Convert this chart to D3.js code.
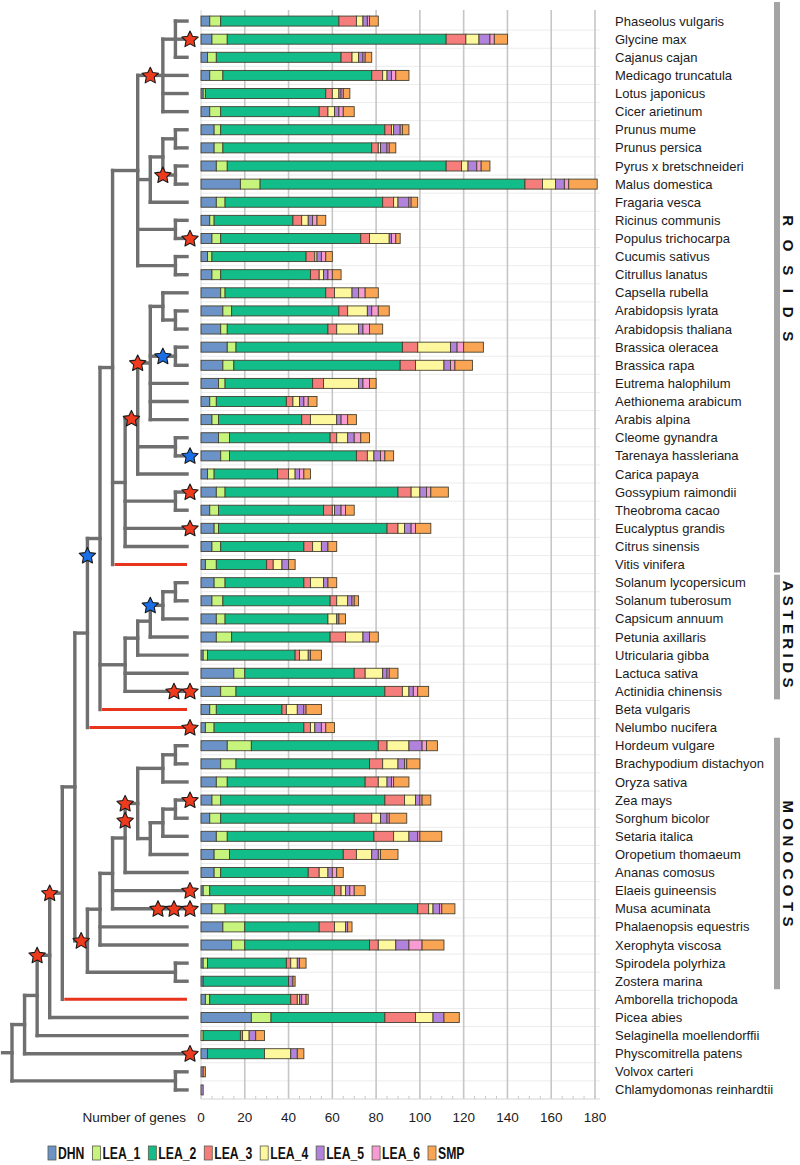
<!DOCTYPE html>
<html><head><meta charset="utf-8">
<script src="https://cdn.jsdelivr.net/npm/d3@7"></script>
<style>body{margin:0;background:#fff}</style>
</head><body>
<svg id="chart" width="800" height="1165"></svg>
<script>
// ---------------- DATA ----------------
const species = ["Phaseolus vulgaris","Glycine max","Cajanus cajan","Medicago truncatula","Lotus japonicus","Cicer arietinum","Prunus mume","Prunus persica","Pyrus x bretschneideri","Malus domestica","Fragaria vesca","Ricinus communis","Populus trichocarpa","Cucumis sativus","Citrullus lanatus","Capsella rubella","Arabidopsis lyrata","Arabidopsis thaliana","Brassica oleracea","Brassica rapa","Eutrema halophilum","Aethionema arabicum","Arabis alpina","Cleome gynandra","Tarenaya hassleriana","Carica papaya","Gossypium raimondii","Theobroma cacao","Eucalyptus grandis","Citrus sinensis","Vitis vinifera","Solanum lycopersicum","Solanum tuberosum","Capsicum annuum","Petunia axillaris","Utricularia gibba","Lactuca sativa","Actinidia chinensis","Beta vulgaris","Nelumbo nucifera","Hordeum vulgare","Brachypodium distachyon","Oryza sativa","Zea mays","Sorghum bicolor","Setaria italica","Oropetium thomaeum","Ananas comosus","Elaeis guineensis","Musa acuminata","Phalaenopsis equestris","Xerophyta viscosa","Spirodela polyrhiza","Zostera marina","Amborella trichopoda","Picea abies","Selaginella moellendorffii","Physcomitrella patens","Volvox carteri","Chlamydomonas reinhardtii"];

const seriesNames = ["DHN","LEA_1","LEA_2","LEA_3","LEA_4","LEA_5","LEA_6","SMP"];

const DHN   = [4,5,3,4,1,4,6,6,7,18, 7,4,5,3,5,9,10,9,12,10, 8,4,5,8,9,3,7,4,6,5, 2,6,5,7,7,1,15,9,4,2, 12,9,7,5,4,7,6,6,1,5, 10,14,1,1,2,23,0,3,0,0];
const LEA_1 = [5,7,4,6,1,5,3,4,5,9, 4,2,4,2,4,2,4,3,4,5, 3,3,3,5,4,3,4,4,2,4, 5,5,5,4,7,2,5,7,3,4, 11,7,5,4,5,5,7,3,3,6, 10,6,2,0,2,9,1,0,0,0];
const LEA_2 = [54,100,57,68,55,45,75,68,100,121, 72,36,64,43,41,46,49,46,76,76, 40,32,38,46,58,29,79,48,77,38, 23,36,49,47,45,40,50,68,30,41, 58,61,63,75,61,67,52,40,57,88, 34,57,36,39,37,52,17,26,0,0];
const LEA_3 = [8,9,5,5,3,4,3,3,7,8, 5,4,4,4,4,4,4,4,7,7, 5,3,4,3,5,5,6,4,5,4, 3,3,3,0,7,2,5,8,2,3, 4,6,6,9,8,9,6,5,3,5, 7,4,2,0,3,14,1,0,0,0];
const LEA_4 = [3,6,3,2,3,3,1,1,3,6, 2,3,9,1,2,8,9,10,15,13, 16,3,12,5,3,3,4,1,3,4, 4,6,5,4,8,4,8,3,5,2, 10,7,4,5,4,7,7,4,2,2, 5,8,3,0,1,8,3,12,0,0];
const LEA_5 = [2,5,2,2,1,2,3,3,4,4, 5,2,1,2,2,3,2,2,3,3, 2,2,2,3,3,2,3,3,3,3, 3,2,2,1,3,1,2,2,3,3, 6,3,2,2,3,4,3,2,2,3, 1,6,1,2,1,5,3,3,1,1];
const LEA_6 = [1,2,1,2,1,2,1,1,2,2, 1,2,2,2,2,3,3,3,3,2, 3,2,3,3,2,2,2,2,2,0, 0,0,1,0,0,0,1,2,1,2, 2,1,1,1,1,1,1,2,2,1, 0,6,0,0,2,0,0,0,0,0];
const SMP   = [4,6,3,6,3,5,3,3,4,13, 3,4,2,3,4,6,5,6,9,8, 3,4,4,4,4,3,8,4,7,4, 3,4,2,3,4,5,4,5,7,4, 5,6,7,4,8,10,8,3,5,6, 2,10,3,1,1,7,4,3,1,0];

const xTicks = [0,20,40,60,80,100,120,140,160,180];
const xLabel = "Number of genes";

const groups = [
  {name:"ROSIDS",   first:"Phaseolus vulgaris",   last:"Vitis vinifera"},
  {name:"ASTERIDS", first:"Solanum lycopersicum", last:"Actinidia chinensis"},
  {name:"MONOCOTS", first:"Hordeum vulgare",      last:"Zostera marina"}
];

// Phylogeny: n(name, level, ...children); leaves are species names
function n(name, level, ...children){ return {name, level, children: children.map(c => typeof c === "string" ? {name:c} : c)}; }
const tree =
n("root",0,
 n("land",1,
  n("vas",2,
   n("spm",3,
    n("ang",4,
     n("mesa",5,
      n("eud",6,
       n("core",7,
        n("rosids",8,
         n("fabids",10,
          n("fab",12, n("gly",13,"Phaseolus vulgaris","Glycine max","Cajanus cajan"),"Medicago truncatula","Lotus japonicus","Cicer arietinum"),
          n("ros",11, n("ros2",12, n("pru",13,"Prunus mume","Prunus persica"), n("mal",13,"Pyrus x bretschneideri","Malus domestica")),"Fragaria vesca"),
          n("mlp",13,"Ricinus communis","Populus trichocarpa"),
          n("cuc",13,"Cucumis sativus","Citrullus lanatus")),
         n("malvids",9,
          n("br0",10,
           n("br1",11,
            n("br2",12,"Capsella rubella", n("ara",13,"Arabidopsis lyrata","Arabidopsis thaliana")),
            n("bra",13,"Brassica oleracea","Brassica rapa"),
            "Eutrema halophilum","Aethionema arabicum","Arabis alpina"),
           n("cle",13,"Cleome gynandra","Tarenaya hassleriana"),
           "Carica papaya"),
          n("mlv",13,"Gossypium raimondii","Theobroma cacao"),
          "Eucalyptus grandis","Citrus sinensis"),
         "Vitis vinifera"),
        n("ast",9,
         n("lam",10, n("sol3",11, n("sol2",12, n("sol",13,"Solanum lycopersicum","Solanum tuberosum"),"Capsicum annuum"),"Petunia axillaris"),"Utricularia gibba"),
         "Lactuca sativa","Actinidia chinensis"),
        "Beta vulgaris"),
       "Nelumbo nucifera"),
      n("mono",6,
       n("m7",7,
        n("m8",8,
         n("com",9,
          n("poa",10,
           n("bep",12, n("poo",13,"Hordeum vulgare","Brachypodium distachyon"),"Oryza sativa"),
           n("pac",11, n("pan",12, n("and",13,"Zea mays","Sorghum bicolor"),"Setaria italica"),"Oropetium thomaeum")),
          "Ananas comosus"),
         "Elaeis guineensis","Musa acuminata"),
        "Phalaenopsis equestris","Xerophyta viscosa"),
       n("ali",13,"Spirodela polyrhiza","Zostera marina"))),
     "Amborella trichopoda"),
    "Picea abies"),
   "Selaginella moellendorffii"),
  "Physcomitrella patens"),
 n("chl",13,"Volvox carteri","Chlamydomonas reinhardtii"));

const redBranches = ["Vitis vinifera","Beta vulgaris","Nelumbo nucifera","Amborella trichopoda"];

// duplication-event stars: on = node/leaf, at = tip | mid | start
const stars = [
 {on:"Glycine max", at:"tip", color:"red", count:1},
 {on:"fab", at:"mid", color:"red", count:1},
 {on:"mal", at:"start", color:"red", count:1},
 {on:"Populus trichocarpa", at:"tip", color:"red", count:1},
 {on:"bra", at:"mid", color:"blue", count:1},
 {on:"br1", at:"start", color:"red", count:1},
 {on:"br0", at:"mid", color:"red", count:1},
 {on:"Tarenaya hassleriana", at:"tip", color:"blue", count:1},
 {on:"Gossypium raimondii", at:"tip", color:"red", count:1},
 {on:"Eucalyptus grandis", at:"tip", color:"red", count:1},
 {on:"core", at:"start", color:"blue", count:1, skip:1},
 {on:"sol2", at:"start", color:"blue", count:1},
 {on:"Actinidia chinensis", at:"tip", color:"red", count:2},
 {on:"Nelumbo nucifera", at:"tip", color:"red", count:1},
 {on:"Zea mays", at:"tip", color:"red", count:1},
 {on:"poa", at:"start", color:"red", count:2},
 {on:"Elaeis guineensis", at:"tip", color:"red", count:1},
 {on:"Musa acuminata", at:"tip", color:"red", count:3},
 {on:"mono", at:"mid", color:"red", count:1},
 {on:"ang", at:"start", color:"red", count:1},
 {on:"spm", at:"start", color:"red", count:1},
 {on:"Physcomitrella patens", at:"tip", color:"red", count:1}
];

// ---------------- STYLE ----------------
const seriesColors = {DHN:"#6b93c8",LEA_1:"#c6f47c",LEA_2:"#12bd8a",LEA_3:"#f57e7c",LEA_4:"#fdf89d",LEA_5:"#b183dc",LEA_6:"#f89bd3",SMP:"#f9a554"};
const starColors = {red:"#ee3a1d", blue:"#1a6ee6"};
const groupStyle = {ROSIDS:{span:126, shift:-9}, ASTERIDS:{span:107, shift:-3}, MONOCOTS:{span:126, shift:0}};
const sans = "'Liberation Sans', Arial, sans-serif";

// ---------------- CHART ----------------
const svg = d3.select("#chart");
const x = d3.scaleLinear().domain([0,180]).range([201,595]);
const y = d3.scalePoint().domain(species).range([12,1099]).padding(0.5);
const step = y.step();
const barH = 10;
const plotTop = 10, plotBottom = 1099, plotRight = 600;

// horizontal row separators
svg.append("g").selectAll("line").data(species).join("line")
  .attr("x1", x(0)).attr("x2", plotRight)
  .attr("y1", d => y(d) + step/2).attr("y2", d => y(d) + step/2)
  .attr("stroke", "#ececec").attr("stroke-width", 1);

// vertical gridlines
svg.append("g").selectAll("line").data(xTicks).join("line")
  .attr("x1", d => x(d)).attr("x2", d => x(d))
  .attr("y1", plotTop).attr("y2", plotBottom)
  .attr("stroke", d => d === 0 ? "#d8d8d8" : "#c6c6c6").attr("stroke-width", d => d === 0 ? 1 : 1.6);

// minor ticks along the bottom
svg.append("g").selectAll("line").data(d3.range(0, 181, 5)).join("line")
  .attr("x1", d => x(d)).attr("x2", d => x(d))
  .attr("y1", plotBottom - 3).attr("y2", plotBottom)
  .attr("stroke", "#c6c6c6").attr("stroke-width", 1);
svg.append("line").attr("x1", x(0)).attr("x2", plotRight).attr("y1", plotBottom).attr("y2", plotBottom)
  .attr("stroke", "#dedede").attr("stroke-width", 1);

// stacked bars
const rows = species.map((s,i) => ({species:s, DHN:DHN[i], LEA_1:LEA_1[i], LEA_2:LEA_2[i], LEA_3:LEA_3[i], LEA_4:LEA_4[i], LEA_5:LEA_5[i], LEA_6:LEA_6[i], SMP:SMP[i]}));
const stacked = d3.stack().keys(seriesNames)(rows);
svg.append("g").selectAll("g").data(stacked).join("g")
  .attr("fill", d => seriesColors[d.key])
  .selectAll("rect").data(d => d.filter(v => v[1] > v[0])).join("rect")
  .attr("x", d => x(d[0])).attr("width", d => x(d[1]) - x(d[0]))
  .attr("y", d => y(d.data.species) - barH/2).attr("height", barH)
  .attr("stroke", "#45402f").attr("stroke-width", 0.9);

// species labels
svg.append("g").selectAll("text").data(species).join("text")
  .attr("x", 615).attr("y", d => y(d)).attr("dy", "0.35em")
  .attr("font-family", sans).attr("font-size", 13).attr("fill", "#1b1b1b")
  .text(d => d);

// x axis tick labels
svg.append("g").selectAll("text").data(xTicks).join("text")
  .attr("x", d => x(d)).attr("y", 1122).attr("text-anchor", "middle")
  .attr("font-family", sans).attr("font-size", 13.5).attr("fill", "#1b1b1b")
  .text(d => d);
svg.append("text").attr("x", 186).attr("y", 1122).attr("text-anchor", "end")
  .attr("font-family", sans).attr("font-size", 13.5).attr("fill", "#1b1b1b").text(xLabel);

// group brackets
const gTop = d => d.first === species[0] ? 2 : y(d.first) - 8;
const gBot = d => y(d.last) + 8;
const gg = svg.append("g").selectAll("g").data(groups).join("g");
gg.append("rect").attr("x", 774).attr("width", 6)
  .attr("y", gTop).attr("height", d => gBot(d) - gTop(d))
  .attr("fill", "#a4a4a4");
gg.append("text")
  .attr("transform", d => `translate(788,${(gTop(d) + gBot(d))/2 + groupStyle[d.name].shift}) rotate(90)`)
  .attr("text-anchor", "middle").attr("dy", "0.35em")
  .attr("font-family", sans).attr("font-weight", "bold").attr("font-size", 15).attr("fill", "#111")
  .attr("textLength", d => groupStyle[d.name].span).attr("lengthAdjust", "spacing")
  .text(d => d.name);

// ---------------- TREE ----------------
const lx = d3.scaleLinear().domain([0,14]).range([12,188]);
const tipX = lx(14) - 1;
const root = d3.hierarchy(tree);
root.eachAfter(d => {
  if (!d.children) { d.px = tipX; d.py = y(d.data.name); }
  else {
    d.px = lx(d.data.level);
    d.py = (d.children[0].py + d.children[d.children.length-1].py) / 2;
  }
});
const treeG = svg.append("g").attr("fill", "none").attr("stroke-linecap", "square");
treeG.selectAll("line.v").data(root.descendants().filter(d => d.children)).join("line")
  .attr("x1", d => d.px).attr("x2", d => d.px)
  .attr("y1", d => d.children[0].py).attr("y2", d => d.children[d.children.length-1].py)
  .attr("stroke", "#6f6f6f").attr("stroke-width", 3.4);
treeG.selectAll("line.h").data(root.descendants().filter(d => d.parent)).join("line")
  .attr("x1", d => d.parent.px + (redBranches.includes(d.data.name) ? 2 : 0)).attr("x2", d => d.px)
  .attr("y1", d => d.py).attr("y2", d => d.py)
  .attr("stroke", d => redBranches.includes(d.data.name) ? "#e8331d" : "#6f6f6f")
  .attr("stroke-linecap", d => redBranches.includes(d.data.name) ? "butt" : "square")
  .attr("stroke-width", d => redBranches.includes(d.data.name) ? 3 : 3.4);
treeG.append("line").attr("x1", lx(-0.75)).attr("x2", root.px).attr("y1", root.py).attr("y2", root.py)
  .attr("stroke", "#6f6f6f").attr("stroke-width", 3.4);

// stars
const byName = new Map(root.descendants().map(d => [d.data.name, d]));
function starPath(R, r){
  const p = [];
  for (let i = 0; i < 10; i++){
    const a = -Math.PI/2 + i*Math.PI/5, rad = i % 2 ? r : R;
    p.push([rad*Math.cos(a), rad*Math.sin(a)]);
  }
  return "M" + p.map(q => q[0].toFixed(2) + "," + q[1].toFixed(2)).join("L") + "Z";
}
const starPts = [];
stars.forEach(s => {
  const nd = byName.get(s.on);
  for (let k = 0; k < s.count; k++){
    let cx, cy;
    if (s.at === "tip") { cx = nd.px + 3 - k*16; cy = nd.py; }
    else if (s.at === "mid") { cx = (nd.parent.px + nd.px)/2; cy = nd.py + k*17; }
    else { cx = nd.parent.px; cy = nd.py + (k + (s.skip || 0))*17; }
    starPts.push({cx, cy, color:s.color});
  }
});
svg.append("g").selectAll("path").data(starPts).join("path")
  .attr("d", starPath(8.6, 4.2))
  .attr("transform", d => `translate(${d.cx},${d.cy + 0.5})`)
  .attr("fill", d => starColors[d.color]).attr("stroke", "#1a1a1a").attr("stroke-width", 1.1)
  .attr("stroke-linejoin", "round");

// ---------------- LEGEND ----------------
const lg = svg.append("g");
const items = lg.selectAll("g").data(seriesNames).join("g");
items.append("rect").attr("width", 8).attr("height", 14).attr("y", -7)
  .attr("fill", d => seriesColors[d]).attr("stroke", "#5a5a4a").attr("stroke-width", 0.8);
const squeeze = 0.74;
items.append("g").attr("transform", `translate(10,0) scale(${squeeze},1)`)
  .append("text").attr("dy", "0.36em")
  .attr("font-family", sans).attr("font-weight", "bold").attr("font-size", 16.5).attr("fill", "#111")
  .text(d => d);
const widths = [];
items.each(function(){ widths.push(10 + squeeze * d3.select(this).select("text").node().getComputedTextLength()); });
const lStart = 48, lLast = 428;
const gap = (lLast - lStart - d3.sum(widths.slice(0, -1))) / (widths.length - 1);
let cur = lStart;
items.attr("transform", (d,i) => { const t = `translate(${cur},1153)`; cur += widths[i] + gap; return t; });
</script>
</body></html>
